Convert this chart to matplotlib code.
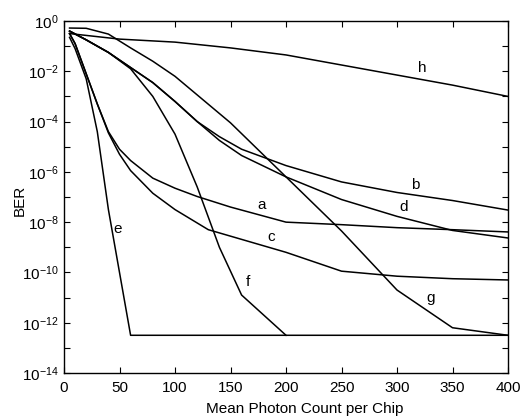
import numpy as np
import matplotlib
matplotlib.use("Agg")
import matplotlib.pyplot as plt
from matplotlib.ticker import FixedLocator, NullFormatter, FuncFormatter

plt.rcParams['font.family'] = ['Liberation Sans', 'DejaVu Sans']
plt.rcParams['mathtext.fontset'] = 'custom'
plt.rcParams['mathtext.rm'] = 'Liberation Sans'
plt.rcParams['mathtext.it'] = 'Liberation Sans'

# log10(BER)
x_a = [5, 10, 20, 30, 40, 50, 60, 80, 100, 120, 150, 200, 250, 300, 350, 400]
y_a = [-0.5, -0.9, -2.1, -3.3, -4.4, -5.1, -5.55, -6.25, -6.65, -6.98, -7.4, -8.0, -8.1, -8.22, -8.3, -8.39]

x_b = [5, 20, 40, 60, 80, 100, 120, 140, 160, 200, 250, 300, 350, 400]
y_b = [-0.4, -0.75, -1.25, -1.85, -2.45, -3.2, -4.0, -4.6, -5.1, -5.75, -6.4, -6.82, -7.14, -7.52]

x_c = [5, 10, 20, 30, 40, 50, 60, 80, 100, 130, 200, 250, 300, 350, 400]
y_c = [-0.5, -0.9, -2.1, -3.3, -4.45, -5.3, -5.95, -6.85, -7.5, -8.3, -9.2, -9.95, -10.15, -10.25, -10.3]

x_d = [5, 20, 40, 60, 80, 100, 120, 140, 160, 200, 250, 300, 350, 400]
y_d = [-0.4, -0.75, -1.25, -1.85, -2.45, -3.2, -4.0, -4.75, -5.35, -6.2, -7.1, -7.77, -8.33, -8.63]

x_e = [5, 10, 20, 30, 40, 50, 60, 100, 200, 300, 400]
y_e = [-0.65, -1.1, -2.3, -4.4, -7.5, -10.0, -12.5, -12.5, -12.5, -12.5, -12.5]

x_f = [5, 20, 40, 60, 80, 100, 120, 140, 160, 200]
y_f = [-0.4, -0.75, -1.25, -1.9, -3.0, -4.5, -6.6, -9.0, -10.9, -12.5]

x_g = [5, 20, 40, 60, 80, 100, 150, 200, 250, 300, 350, 400]
y_g = [-0.28, -0.29, -0.52, -1.07, -1.6, -2.2, -4.05, -6.2, -8.35, -10.7, -12.2, -12.5]

x_h = [5, 50, 100, 150, 200, 250, 300, 350, 400]
y_h = [-0.5, -0.72, -0.84, -1.07, -1.35, -1.75, -2.15, -2.55, -3.0]

curve_names = ['a', 'b', 'c', 'd', 'e', 'f', 'g', 'h']
label_x = [178, 316, 187, 306, 48.6, 166, 330, 322.6]
label_y = [-7.32, -6.52, -8.59, -7.4, -8.27, -10.38, -11.02, -1.87]

x_ticks = [0, 50, 100, 150, 200, 250, 300, 350, 400]

fig = plt.figure(figsize=(5.22, 4.16), dpi=100)
ax = fig.add_axes([64/522, 1 - 373/416, (508-64)/522, (373-21)/416])

series = [(x_a, y_a), (x_b, y_b), (x_c, y_c), (x_d, y_d),
          (x_e, y_e), (x_f, y_f), (x_g, y_g), (x_h, y_h)]
for xs, ys in series:
    ax.plot(xs, 10.0 ** np.array(ys), color='black', lw=1.1)

for name, lx, ly in zip(curve_names, label_x, label_y):
    ax.text(lx, 10.0 ** ly, name, fontsize=11, ha='center', va='center')

ax.set_yscale('log')
ax.set_xlim(0, 400)
ax.set_ylim(1e-14, 1)
ax.set_xticks(x_ticks)
ax.yaxis.set_major_locator(FixedLocator([10.0 ** k for k in range(-14, 1, 2)]))
ax.yaxis.set_minor_locator(FixedLocator([10.0 ** k for k in range(-13, 0, 2)]))
ax.yaxis.set_minor_formatter(NullFormatter())
ax.yaxis.set_major_formatter(FuncFormatter(lambda v, p: r'$10^{%d}$' % int(round(np.log10(v)))))
ax.tick_params(which='both', direction='in', top=True, right=True, length=4, width=0.8, labelsize=11)
ax.tick_params(axis='x', pad=5.5)
ax.tick_params(axis='y', pad=4)
for s in ax.spines.values():
    s.set_linewidth(1.0)

ax.set_xlabel('Mean Photon Count per Chip', fontsize=11)
ax.xaxis.set_label_coords(0.543, -0.082)
ax.set_ylabel('BER', fontsize=11, va='center', ha='center')
ax.yaxis.set_label_coords(-0.099, 0.49)

fig.savefig('out.png', dpi=100)
